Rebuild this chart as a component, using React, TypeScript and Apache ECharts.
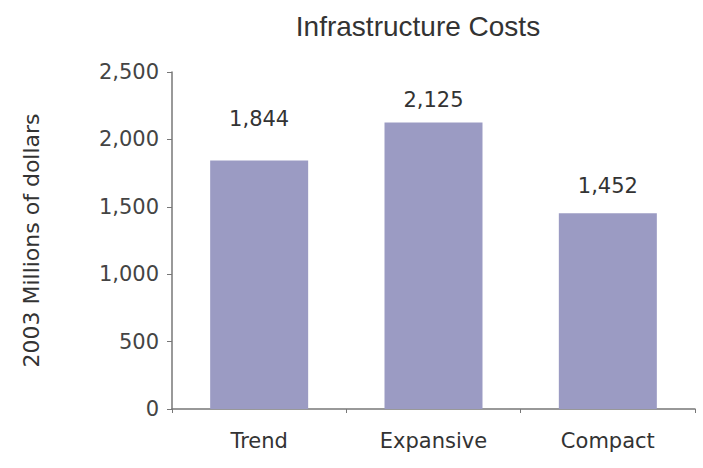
import React, { useEffect, useRef } from "react";
import * as echarts from "echarts";

const title = "Infrastructure Costs";
const categories = ["Trend", "Expansive", "Compact"];
const values = [1844, 2125, 1452];
const yTicks = [0, 500, 1000, 1500, 2000, 2500];
const yAxisName = "2003 Millions of dollars";

const fmt = (v: number) => v.toLocaleString("en-US");

export default function App() {
  const ref = useRef<HTMLDivElement>(null);
  useEffect(() => {
    if (!ref.current) return;
    const chart = echarts.init(ref.current, undefined, { renderer: "svg" });
    const labelDist = [31, 12, 17];
    const font = "'Liberation Sans', Arial, sans-serif";
    const wide = "'DejaVu Sans', Verdana, sans-serif";
    chart.setOption({
      animation: false,
      backgroundColor: "#ffffff",
      graphic: [
        {
          type: "text",
          x: 418,
          y: 12,
          style: {
            text: title,
            align: "center",
            verticalAlign: "top",
            fontSize: 28,
            fontFamily: font,
            fill: "#333333",
          },
        },
      ],
      grid: { left: 172, right: 8, top: 72, bottom: 59, containLabel: false },
      xAxis: {
        type: "category",
        data: categories,
        axisLine: { lineStyle: { color: "#777777", width: 1.5 } },
        axisTick: { show: true, length: 4, lineStyle: { color: "#777777" } },
        axisLabel: {
          fontSize: 21,
          fontFamily: wide,
          color: "#333333",
          margin: 21,
        },
      },
      yAxis: {
        type: "value",
        min: yTicks[0],
        max: yTicks[yTicks.length - 1],
        interval: yTicks[1] - yTicks[0],
        name: yAxisName,
        nameLocation: "middle",
        nameRotate: 90,
        nameGap: 130,
        nameTextStyle: { fontSize: 22, fontFamily: wide, color: "#333333" },
        axisLine: { show: true, lineStyle: { color: "#777777", width: 1.5 } },
        axisTick: { show: true, length: 5, lineStyle: { color: "#777777" } },
        splitLine: { show: false },
        axisLabel: {
          fontSize: 21,
          fontFamily: wide,
          color: "#444444",
          margin: 13,
          formatter: (v: number) => fmt(v),
        },
      },
      series: [
        {
          type: "bar",
          barWidth: 98,
          itemStyle: { color: "#9b9bc3" },
          data: values.map((v, i) => ({
            value: v,
            label: { distance: labelDist[i] },
          })),
          label: {
            show: true,
            position: "top",
            fontSize: 21,
            fontFamily: wide,
            color: "#333333",
            formatter: (p: any) => fmt(p.value),
          },
        },
      ],
    });
    return () => chart.dispose();
  }, []);
  return <div ref={ref} style={{ width: 703, height: 468, position: "absolute", left: 0, top: 0 }} />;
}
